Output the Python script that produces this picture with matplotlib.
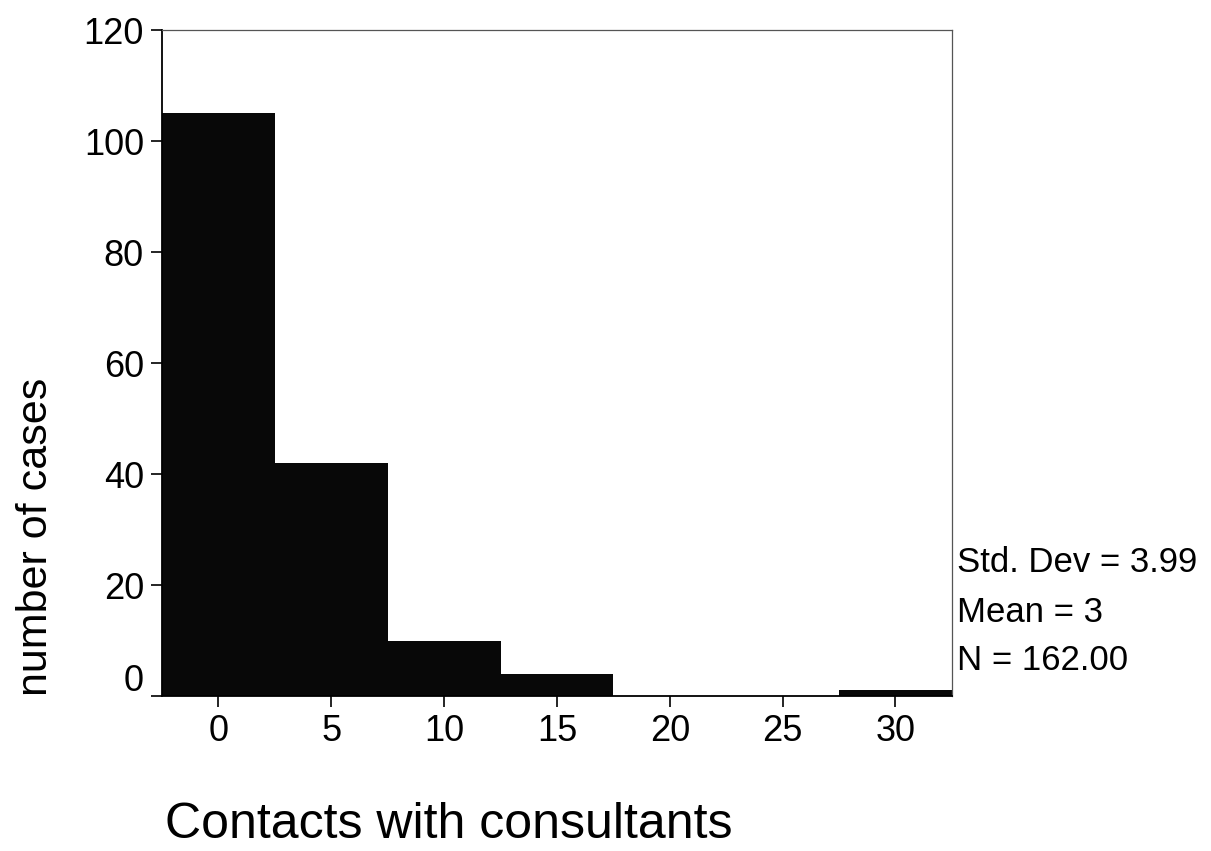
import numpy as np
import matplotlib.pyplot as plt
import matplotlib.transforms as mtransforms

plt.rcParams['font.family'] = ['Liberation Sans', 'DejaVu Sans']

# Histogram bins (centres) and counts
bin_centers = [0, 5, 10, 15, 20, 25, 30]
counts = [105, 42, 10, 4, 0, 0, 1]
bin_width = 5

x_ticks = [0, 5, 10, 15, 20, 25, 30]
y_ticks = [0, 20, 40, 60, 80, 100, 120]

stats_lines = ['Std. Dev = 3.99', 'Mean = 3', 'N = 162.00']

fig = plt.figure(figsize=(12.11, 8.51), dpi=100)
ax = fig.add_axes([0.1338, 0.1821, 0.786 - 0.1338, 0.9647 - 0.1821])

ax.bar(bin_centers, counts, width=bin_width, color='#080808', edgecolor='none', linewidth=0)

ax.set_xlim(-2.5, 32.5)
ax.set_ylim(0, 120)
ax.set_xticks(x_ticks)
ax.set_yticks(y_ticks)
ax.tick_params(axis='both', labelsize=26, length=8, width=1.2, direction='out', pad=5)

# the "0" label sits a little above the axis line in the original
lbl0 = ax.get_yticklabels()[0]
lbl0.set_transform(lbl0.get_transform() + mtransforms.ScaledTranslation(0, 0.19, fig.dpi_scale_trans))

for side in ['top', 'right']:
    ax.spines[side].set_color('#555555')
    ax.spines[side].set_linewidth(0.9)
for side in ['left', 'bottom']:
    ax.spines[side].set_linewidth(1.3)

fig.text(0.030, 1 - 537 / 851, 'number of cases', rotation=90, fontsize=31,
         ha='center', va='center')
fig.text(0.136, 1 - 825 / 851, 'Contacts with consultants', fontsize=36,
         ha='left', va='center')

# summary statistics next to the plot
for i, line in enumerate(stats_lines):
    fig.text(0.790, 1 - (563 + 49 * i) / 851, line, fontsize=25,
             ha='left', va='center')

plt.savefig('out.png', dpi=100)
